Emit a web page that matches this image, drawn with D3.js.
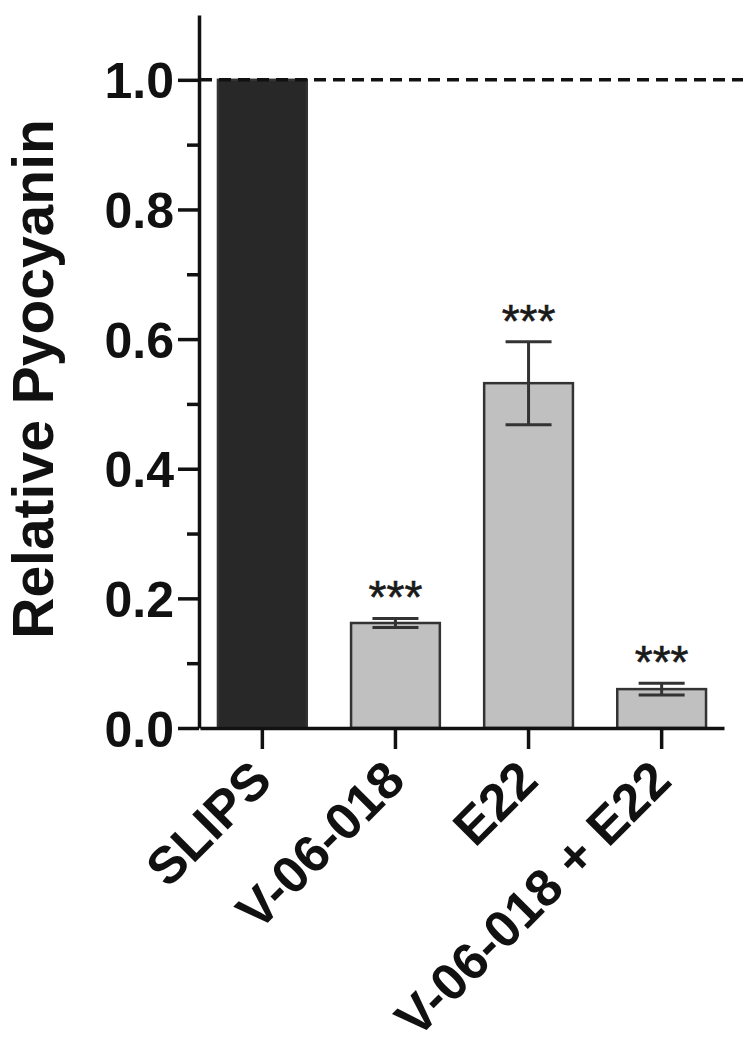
<!DOCTYPE html>
<html>
<head>
<meta charset="utf-8">
<script src="https://cdn.jsdelivr.net/npm/d3@7"></script>
<style>
  body { margin: 0; background: #fff; }
  svg { display: block; font-family: 'Liberation Sans', Arial, sans-serif; }
</style>
</head>
<body>
<svg id="chart"></svg>
<script>
// data
const categories = ['SLIPS', 'V-06-018', 'E22', 'V-06-018 + E22'];
const means = [1.0, 0.162, 0.532, 0.060];
const errors = [0, 0.007, 0.064, 0.009];
const stars = ['', '***', '***', '***'];
const yTicks = [0, 0.2, 0.4, 0.6, 0.8, 1.0];
const yMinorTicks = [0.1, 0.3, 0.5, 0.7, 0.9];
const refLine = 1.0;

const width = 743, height = 1050;
const svg = d3.select('#chart')
  .attr('width', width)
  .attr('height', height);

const x = d3.scaleBand()
  .domain(categories)
  .range([200, 724])
  .paddingInner(0.333)
  .paddingOuter(0.135);

const y = d3.scaleLinear()
  .domain([0, 1.1])
  .range([728, 15]);

const rows = categories.map((c, i) => ({ cat: c, mean: means[i], err: errors[i], star: stars[i] }));

// bars
svg.append('g')
  .selectAll('rect')
  .data(rows)
  .enter()
  .append('rect')
  .attr('x', d => x(d.cat))
  .attr('y', d => y(d.mean))
  .attr('width', x.bandwidth())
  .attr('height', d => y(0) - y(d.mean))
  .attr('fill', (d, i) => i === 0 ? '#282828' : '#c0c0c0')
  .attr('stroke', '#333')
  .attr('stroke-width', 2.5);

// error bars
const eb = svg.append('g')
  .attr('stroke', '#333')
  .attr('stroke-width', 3)
  .selectAll('g')
  .data(rows.filter(d => d.err > 0))
  .enter()
  .append('g');

eb.append('line')
  .attr('x1', d => x(d.cat) + x.bandwidth() / 2)
  .attr('x2', d => x(d.cat) + x.bandwidth() / 2)
  .attr('y1', d => y(d.mean - d.err))
  .attr('y2', d => y(d.mean + d.err));

[-1, 1].forEach(s => {
  eb.append('line')
    .attr('x1', d => x(d.cat) + x.bandwidth() / 2 - 23)
    .attr('x2', d => x(d.cat) + x.bandwidth() / 2 + 23)
    .attr('y1', d => y(d.mean + s * d.err))
    .attr('y2', d => y(d.mean + s * d.err));
});

// significance stars
svg.append('g')
  .selectAll('text')
  .data(rows)
  .enter()
  .append('text')
  .attr('x', d => x(d.cat) + x.bandwidth() / 2)
  .attr('y', d => y(d.mean + d.err) - 5)
  .attr('text-anchor', 'middle')
  .attr('font-size', '46px')
  .attr('fill', '#1a1a1a')
  .attr('stroke', '#1a1a1a')
  .attr('stroke-width', 0.6)
  .text(d => d.star);

// dashed reference line at 1.0
svg.append('line')
  .attr('x1', 200)
  .attr('x2', width)
  .attr('y1', y(refLine))
  .attr('y2', y(refLine))
  .attr('stroke', '#111')
  .attr('stroke-width', 3.5)
  .attr('stroke-dasharray', '12,7');

// y axis, minor ticks first
svg.append('g')
  .attr('transform', 'translate(199,0)')
  .call(d3.axisLeft(y).tickValues(yMinorTicks).tickSize(12).tickSizeOuter(0).tickFormat(''))
  .call(g => g.select('.domain').remove())
  .call(g => g.selectAll('line').attr('stroke', '#111').attr('stroke-width', 3.5));

const yAxis = svg.append('g')
  .attr('transform', 'translate(199,0)')
  .call(d3.axisLeft(y).tickValues(yTicks).tickSize(21).tickSizeOuter(0).tickPadding(4).tickFormat(d3.format('.1f')));

yAxis.select('.domain').attr('stroke', '#111').attr('stroke-width', 3.5);
yAxis.selectAll('line').attr('stroke', '#111').attr('stroke-width', 3.5);
yAxis.selectAll('text')
  .attr('font-family', "'Liberation Sans', Arial, sans-serif")
  .attr('font-size', '50px')
  .attr('font-weight', 'bold')
  .attr('fill', '#111')
  .attr('dy', '0.36em');

// x axis
const xAxis = svg.append('g')
  .attr('transform', 'translate(0,' + y(0) + ')')
  .call(d3.axisBottom(x).tickSize(21).tickSizeOuter(0));

xAxis.select('.domain').attr('stroke', '#111').attr('stroke-width', 3.5);
xAxis.selectAll('line').attr('stroke', '#111').attr('stroke-width', 3.5);
xAxis.selectAll('text')
  .attr('x', 0)
  .attr('y', 0)
  .attr('dy', 0)
  .attr('transform', 'translate(12,55) rotate(-45)')
  .attr('text-anchor', 'end')
  .attr('font-family', "'Liberation Sans', Arial, sans-serif")
  .attr('font-size', '52px')
  .attr('font-weight', 'bold')
  .attr('fill', '#111');

// y axis title
svg.append('text')
  .attr('transform', 'translate(53,379) rotate(-90)')
  .attr('text-anchor', 'middle')
  .attr('font-size', '57px')
  .attr('font-weight', 'bold')
  .attr('fill', '#111')
  .text('Relative Pyocyanin');
</script>
</body>
</html>
